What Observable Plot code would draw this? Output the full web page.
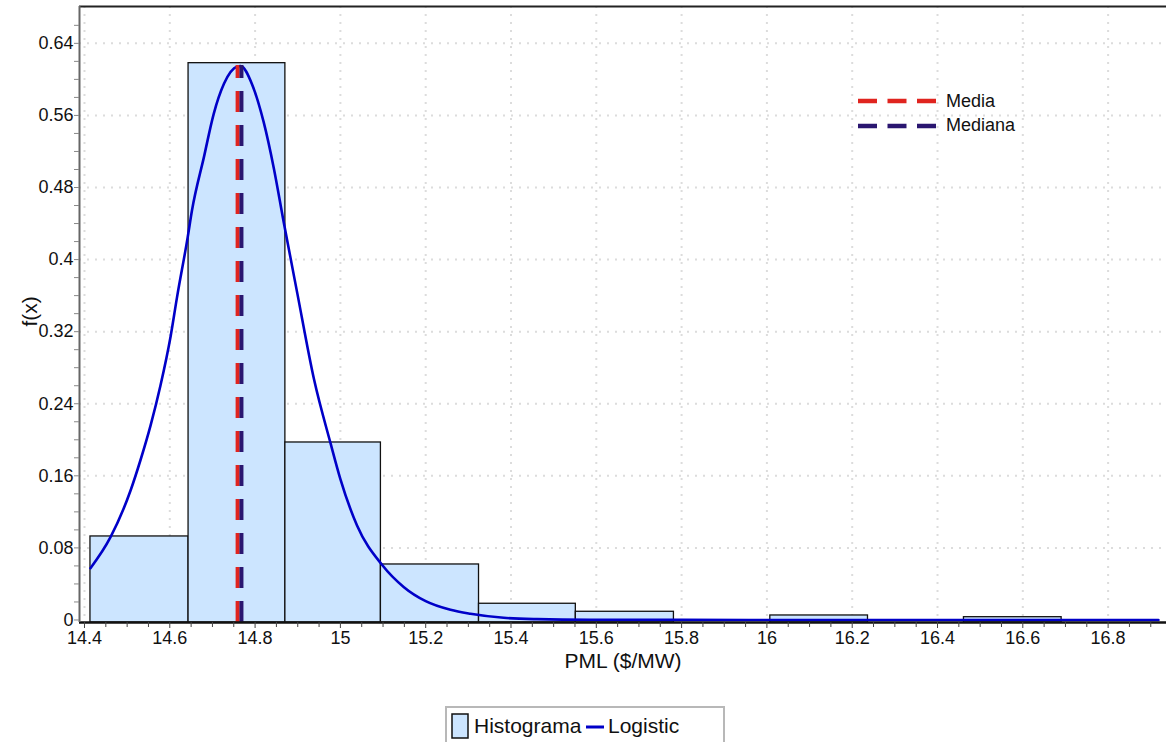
<!DOCTYPE html>
<html>
<head>
<meta charset="utf-8">
<script src="https://cdn.jsdelivr.net/npm/d3@7"></script>
<script src="https://cdn.jsdelivr.net/npm/@observablehq/plot@0.6"></script>
<style>
  body { margin: 0; background: #fff; font-family: "Liberation Sans", Arial, sans-serif; }
  #wrap { position: relative; width: 1166px; height: 742px; overflow: hidden; background: #fff; }
  #chart { position: absolute; left: 0; top: 0; }
  #legIn { position: absolute; left: 856px; top: 89px; font-size: 18px; color: #111; }
  #legIn .row { display: flex; align-items: center; height: 24.5px; }
  #legIn svg { margin-right: 8px; }
  #legOut { position: absolute; left: 445px; top: 706px; width: 280px; height: 60px;
            border: 2px solid #b8b8b8; box-sizing: border-box; font-size: 21px; color: #111; }
  #legOut .item { position: absolute; top: 5px; display: flex; align-items: center; height: 26px; white-space: nowrap; }
</style>
</head>
<body>
<div id="wrap">
  <div id="chart"></div>
  <div id="legIn"></div>
  <div id="legOut"></div>
</div>
<script>
// ---- data ----
const binStart   = [14.414, 14.644, 14.871, 15.095, 15.325, 15.552, 15.782, 16.008, 16.237, 16.462, 16.691];
const binEnd     = [14.644, 14.871, 15.095, 15.325, 15.552, 15.782, 16.008, 16.237, 16.462, 16.691, 16.921];
const binDensity = [0.0927, 0.618, 0.197, 0.0616, 0.018, 0.0091, 0, 0.005, 0, 0.0031, 0];

const curveX = [14.414, 14.461, 14.508, 14.531, 14.555, 14.578, 14.602, 14.617, 14.642, 14.652,
                14.680, 14.703, 14.727, 14.758, 14.766, 14.793, 14.820, 14.844, 14.867, 14.899,
                14.938, 14.977, 15.000, 15.039, 15.098, 15.149, 15.200, 15.258, 15.305, 15.383,
                15.461, 15.586, 15.800, 16.200, 16.600, 16.918];
const curveY = [0.0575, 0.0919, 0.1437, 0.1770, 0.2160, 0.2600, 0.3150, 0.3583, 0.4249, 0.4545,
                0.5137, 0.5618, 0.5951, 0.6143, 0.6149, 0.5944, 0.5528, 0.5012, 0.4418, 0.3625,
                0.2674, 0.1960, 0.1564, 0.1049, 0.0610, 0.0364, 0.0209, 0.0113, 0.0069, 0.0024,
                0.0009, 0.0002, 0.0001, 0.0000, 0.0000, 0.0000];

const statNames  = ["Media", "Mediana"];
const statValues = [14.759, 14.768];
const statTop    = [0.6154, 0.6154];
const statColors = ["#e0241f", "#2a1670"];

const xTickValues = [14.4, 14.6, 14.8, 15, 15.2, 15.4, 15.6, 15.8, 16, 16.2, 16.4, 16.6, 16.8];
const yTickValues = [0, 0.08, 0.16, 0.24, 0.32, 0.4, 0.48, 0.56, 0.64];
const xLabel = "PML ($/MW)";
const yLabel = "f(x)";
const histName = "Histograma";
const curveName = "Logistic";

// ---- layout / style ----
const xDomain = [14.3883, 16.9369];
const yDomain = [-0.0028, 0.6809];
const xMinor = d3.range(14.4, 16.93, 0.05).map(v => +v.toFixed(2)).filter(v => !xTickValues.includes(v));
const yMinor = d3.range(0, 0.68, 0.02).map(v => +v.toFixed(2)).filter(v => !yTickValues.includes(v));
const fmt = d => String(+(+d).toFixed(2));
const histFill = "#cce5ff";
const curveColor = "#0000c8";

const bins = binStart.map((s, i) => ({x1: s, x2: binEnd[i], d: binDensity[i]})).filter(b => b.d > 0);
const curve = curveX.map((x, i) => ({x, y: curveY[i]}));
const stats = statNames.map((n, i) => ({name: n, v: statValues[i], top: statTop[i], color: statColors[i]}));

const chart = Plot.plot({
  width: 1166,
  height: 700,
  marginLeft: 79,
  marginRight: 0,
  marginTop: 6,
  marginBottom: 78,
  style: {fontFamily: "Liberation Sans, Arial, sans-serif", fontSize: "18px", background: "white", color: "#111"},
  x: {domain: xDomain},
  y: {domain: yDomain},
  marks: [
    Plot.gridX(xTickValues, {stroke: "#dcdcdc", strokeOpacity: 1, strokeWidth: 2, strokeDasharray: "2,6"}),
    Plot.gridY(yTickValues.filter(v => v > 0), {stroke: "#dcdcdc", strokeOpacity: 1, strokeWidth: 2, strokeDasharray: "2,6"}),
    Plot.rectY(bins, {x1: "x1", x2: "x2", y1: yDomain[0], y2: "d", fill: histFill, stroke: "#111", strokeWidth: 1.3}),
    Plot.line(curve, {x: "x", y: "y", stroke: curveColor, strokeWidth: 2.6, curve: "monotone-x"}),
    ...stats.map(s => Plot.ruleX([s], {x: "v", y1: yDomain[0], y2: "top", stroke: s.color, strokeWidth: 4, strokeDasharray: "21,13"})),
    Plot.ruleY([yDomain[0]], {stroke: "#111", strokeWidth: 2.5}),
    Plot.ruleY([yDomain[1]], {stroke: "#222", strokeWidth: 2}),
    Plot.ruleX([xDomain[0]], {stroke: "#666", strokeWidth: 2}),
    Plot.axisY({ticks: yTickValues, tickFormat: fmt, tickSize: 5, tickPadding: 1, stroke: "#888", fill: "#111", fontSize: 18, label: null}),
    Plot.axisY({ticks: yMinor, text: null, tickSize: 5, stroke: "#888", label: null}),
    Plot.axisX({ticks: xTickValues, tickFormat: fmt, tickSize: 6, tickPadding: 3, stroke: "#444", fill: "#111", fontSize: 18, label: null}),
    Plot.axisX({ticks: xMinor, text: null, tickSize: 5, stroke: "#444", label: null}),
    Plot.text([xLabel], {frameAnchor: "bottom", text: d => d, dy: 45, fontSize: 21, fill: "#111"}),
    Plot.text([yLabel], {frameAnchor: "left", text: d => d, rotate: -90, dx: -49, dy: 12, fontSize: 21, fill: "#111"})
  ]
});
document.getElementById("chart").appendChild(chart);

// inner legend (Media / Mediana)
const legIn = document.getElementById("legIn");
stats.forEach(s => {
  const row = document.createElement("div");
  row.className = "row";
  row.innerHTML = `<svg width="82" height="8"><line x1="2" x2="82" y1="4" y2="4" stroke="${s.color}" stroke-width="4.3" stroke-dasharray="19,10.5"/></svg><span>${s.name}</span>`;
  legIn.appendChild(row);
});

// bottom legend
const legOut = document.getElementById("legOut");
legOut.innerHTML =
  `<div class="item" style="left:4px;top:5px;"><svg width="19" height="26"><rect x="1" y="1" width="16" height="24" fill="${histFill}" stroke="#111" stroke-width="1.5"/></svg><span style="margin-left:4px">${histName}</span></div>` +
  `<div class="item" style="left:138px;top:5px;"><svg width="20" height="26"><line x1="1" x2="19" y1="14" y2="14" stroke="${curveColor}" stroke-width="3"/></svg><span style="margin-left:3px">${curveName}</span></div>`;
</script>
</body>
</html>
